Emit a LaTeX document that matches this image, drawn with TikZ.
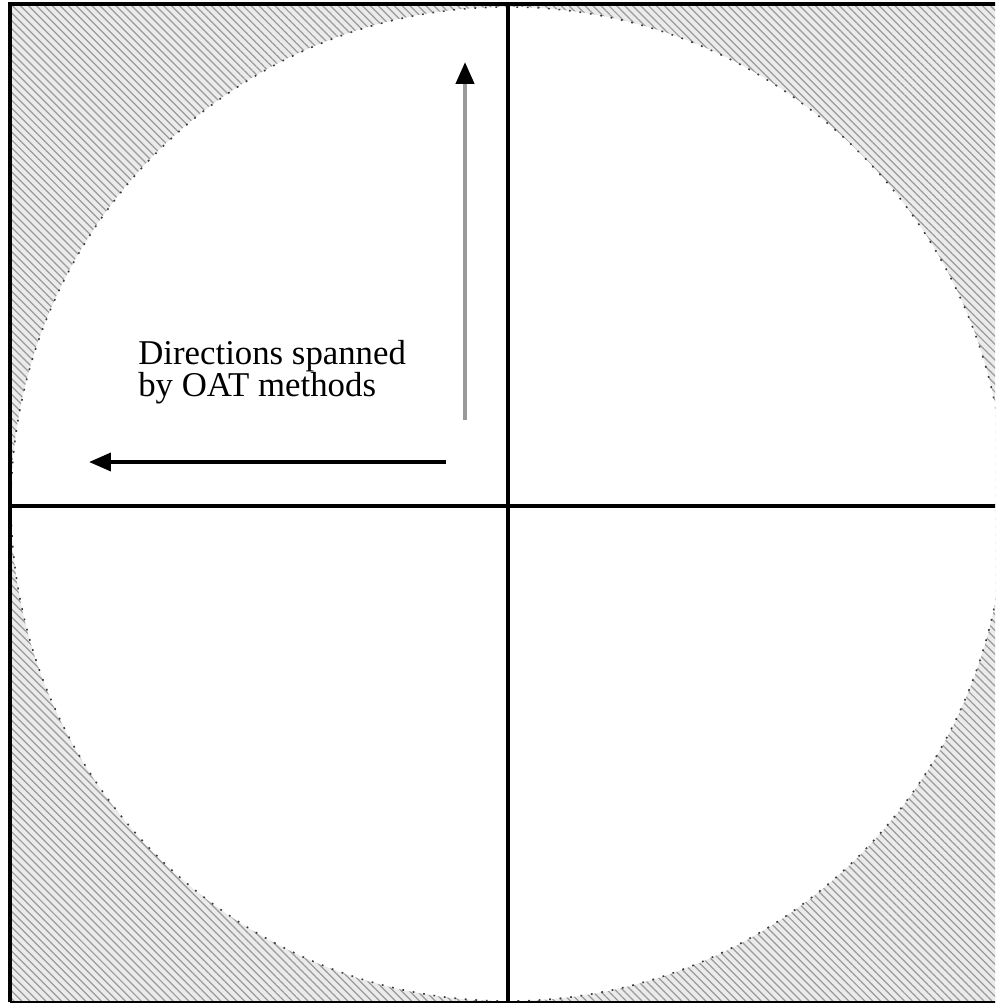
\documentclass[tikz,border=0pt]{standalone}
\usepackage{fontspec}
\setmainfont{Liberation Serif}
\usetikzlibrary{arrows.meta,patterns.meta,positioning}
\definecolor{hatchgray}{HTML}{9A9A9A}
\definecolor{shaftgray}{HTML}{9A9A9A}

\begin{document}
\begin{tikzpicture}[x=0.02cm,y=-0.02cm,
    frame/.style={line width=0.08cm, black},
    dirarrow/.style={line width=0.085cm, -{Triangle[width=0.36cm,length=0.44cm,color=black]}}]
  \useasboundingbox (0,0) rectangle (995,1003);
  \begin{scope}
    \clip (0,0) rectangle (995,1003);
    % hatched square, open disc of admissible directions
    \fill[gray!16] (10,4.5) rectangle (1006,1002);
    \fill[pattern={Lines[angle=-45,distance=3.2pt,line width=0.7pt]}, pattern color=hatchgray] (10,4.5) rectangle (1006,1002);
    \fill[white] (508,504) circle (497);
    \draw[gray!45!black, line width=0.9pt, dash pattern=on 1pt off 5pt] (508,504) circle (497);

    % frame and axes
    \draw[frame] (10,1002) -- (10,4.5) -- (1006,4.5);
    \draw[frame, line width=0.05cm] (10,1002) -- (1006,1002);
    \draw[frame] (508,4.5) -- (508,1002);
    \draw[frame] (10,506) -- (1006,506);
  \end{scope}

  % OAT directions
  \coordinate (vtail) at (465,420);
  \coordinate (vtip) at (465,62);
  \coordinate (htail) at (446,462);
  \coordinate (htip) at (89,462);
  \draw[dirarrow, shaftgray] (vtail) -- (vtip);
  \draw[dirarrow, black, line width=0.075cm] (htail) -- (htip);

  \node[anchor=west, align=left, inner sep=0pt, font=\fontsize{19.8}{18.3}\selectfont] (label) at (138,372)
    {Directions spanned\\by OAT methods};
\end{tikzpicture}
\end{document}
